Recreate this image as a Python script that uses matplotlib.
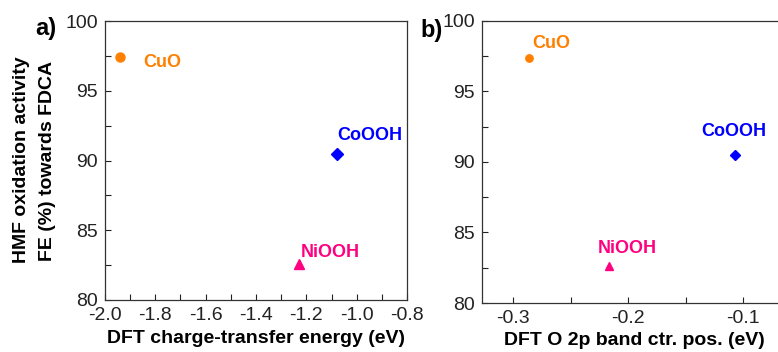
import matplotlib
matplotlib.use("Agg")
import matplotlib.pyplot as plt
from matplotlib.ticker import MultipleLocator

plt.rcParams["font.family"] = ["Liberation Sans", "DejaVu Sans"]

# catalysts and measured FE towards FDCA (%)
names = ["CuO", "CoOOH", "NiOOH"]
fe_fdca = [97.4, 90.5, 82.6]
# DFT descriptors (eV)
ct_energy = [-1.94, -1.08, -1.23]
o2p_center = [-0.286, -0.107, -0.217]

colors = ["#FF8000", "#0000FF", "#FF0080"]
markers = ["o", "D", "^"]

W, H = 778, 352
fig = plt.figure(figsize=(W / 100, H / 100), dpi=100)

ax1 = fig.add_axes([105 / W, (H - 300) / H, 302 / W, 279 / H])
ax2 = fig.add_axes([482 / W, (H - 303) / H, 319 / W, 282 / H])

# label offsets in pixels from each point
offs_a = [(23, -5), (1, 18), (2, 11)]
offs_b = [(3, 14), (-34, 23), (-11, 18)]
sizes_a = [6.5, 6.5, 7.5]
sizes_b = [5.3, 5.5, 6.0]

for i in range(3):
    ax1.plot(ct_energy[i], fe_fdca[i], marker=markers[i], color=colors[i],
             ms=sizes_a[i], ls="none")
    ax1.annotate(names[i], (ct_energy[i], fe_fdca[i]), xytext=offs_a[i],
                 textcoords="offset pixels", color=colors[i], fontsize=13,
                 fontweight="bold", ha="left", va="center")
    ax2.plot(o2p_center[i], fe_fdca[i], marker=markers[i], color=colors[i],
             ms=sizes_b[i], ls="none")
    ax2.annotate(names[i], (o2p_center[i], fe_fdca[i]), xytext=offs_b[i],
                 textcoords="offset pixels", color=colors[i], fontsize=13,
                 fontweight="bold", ha="left", va="center")

ax1.set_xlim(-2.0, -0.8)
ax1.xaxis.set_minor_locator(MultipleLocator(0.1))
ax1.set_xticks([-2.0, -1.8, -1.6, -1.4, -1.2, -1.0, -0.8])
ax1.set_xticklabels(["-2.0", "-1.8", "-1.6", "-1.4", "-1.2", "-1.0", "-0.8"])
ax1.set_xlabel("DFT charge-transfer energy (eV)", fontsize=14,
               fontweight="bold")
ax1.xaxis.set_label_coords(0.5, -(330 - 300) / 279)

ax2.set_xlim(-0.327, -0.05)
ax2.xaxis.set_minor_locator(MultipleLocator(0.05))
ax2.set_xticks([-0.3, -0.2, -0.1])
ax2.set_xticklabels(["-0.3", "-0.2", "-0.1"])
ax2.set_xlabel("DFT O 2p band ctr. pos. (eV)", fontsize=14,
               fontweight="bold")
ax2.xaxis.set_label_coords((634 - 482) / 319, -(332 - 303) / 282)

for ax in (ax1, ax2):
    ax.set_ylim(80, 100)
    ax.yaxis.set_major_locator(MultipleLocator(5))
    ax.yaxis.set_minor_locator(MultipleLocator(2.5))
    ax.tick_params(which="both", direction="in", length=4, width=0.8,
                   labelsize=14, colors="#222222", pad=5)
    for s in ax.spines.values():
        s.set_linewidth(0.9)
        s.set_color("#333333")

fig.text(22 / W, 1 - 160 / H, "HMF oxidation activity", rotation=90,
         fontsize=14, fontweight="bold", ha="center", va="center")
fig.text(48 / W, 1 - 161 / H, "FE (%) towards FDCA", rotation=90,
         fontsize=14, fontweight="bold", ha="center", va="center")

fig.text(35 / W, 1 - 28 / H, "a)", fontsize=17, fontweight="bold",
         ha="left", va="center")
fig.text(420 / W, 1 - 30 / H, "b)", fontsize=17, fontweight="bold",
         ha="left", va="center")

fig.savefig("out.png", dpi=100)
